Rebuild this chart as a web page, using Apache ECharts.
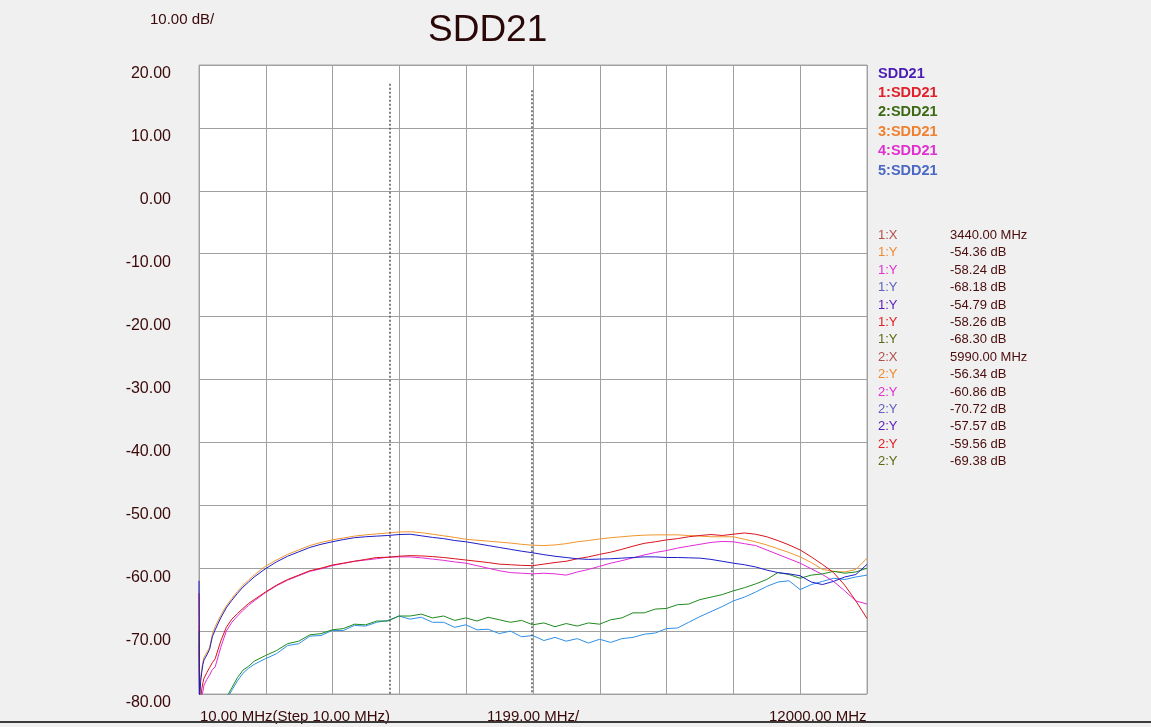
<!DOCTYPE html>
<html>
<head>
<meta charset="utf-8">
<script src="https://cdn.jsdelivr.net/npm/echarts@6/dist/echarts.min.js"></script>
<style>
  html, body { margin: 0; padding: 0; background: #f0f0f0; }
  #chart { width: 1151px; height: 727px; }
</style>
</head>
<body>
<div id="chart"></div>
<script>
// frequency points (MHz)
const freqs = [
  10, 20, 40, 60, 80, 100, 150, 200, 250, 300, 400, 500, 600, 700, 800, 900, 1000,
  1200, 1400, 1600, 1800, 2000,
  2200, 2400, 2600, 2800, 3000, 3200, 3400, 3600, 3800, 4000,
  4200, 4400, 4600, 4800, 5000, 5200, 5400, 5600, 5800, 6000,
  6200, 6400, 6600, 6800, 7000, 7200, 7400, 7600, 7800, 8000,
  8200, 8400, 8600, 8800, 9000, 9200, 9400, 9600, 9800, 10000,
  10200, 10400, 10600, 10800, 11000, 11200, 11400, 11600, 11800, 12000
];

const sdd21 = [
  -62, -81, -78, -76.5, -75.3, -74.6, -73.8, -72.9, -70.9, -69.8, -67.9, -66.3, -65.1, -64.0, -63.0, -62.2, -61.4,
  -60.1, -59.0, -58.1, -57.4, -56.7,
  -56.2, -55.8, -55.45, -55.15, -55.0, -54.9, -54.8, -54.65, -54.6, -54.85,
  -55.1, -55.3, -55.6, -55.8, -56.1, -56.4, -56.7, -57.0, -57.3, -57.55,
  -57.85, -58.1, -58.3, -58.5, -58.6, -58.55, -58.5, -58.4, -58.3, -58.2,
  -58.2, -58.3, -58.3, -58.35, -58.4, -58.6, -58.9, -59.2, -59.45, -59.8,
  -60.3, -60.7, -60.9, -61.2, -62.2, -62.6, -62.1, -61.4, -61.0, -59.4
];
const sdd21_1 = [
  -64, -82, -81, -79.2, -78.2, -77.5, -76.6, -75.8, -75.0, -74.4, -71.6, -69.4, -68.1, -67.2, -66.4, -65.6, -65.0,
  -63.8, -62.7, -61.8, -61.1, -60.4,
  -60.0, -59.5, -59.2, -58.9, -58.6, -58.3, -58.26, -58.1, -58.0, -58.05,
  -58.15, -58.3, -58.5, -58.7, -58.9, -59.1, -59.35, -59.45, -59.55, -59.6,
  -59.35, -59.1, -58.9, -58.5, -58.2, -57.8, -57.45, -57.0, -56.5, -56.05,
  -55.8, -55.5, -55.3, -55.0, -54.8, -54.65, -54.8, -54.6, -54.4, -54.6,
  -55.0, -55.6, -56.3, -57.1, -58.2, -59.4, -60.7, -62.7, -65.2, -68.0
];
const sdd21_2 = [
  -70, -82, -82, -82, -82, -82, -82, -82, -82, -82, -82, -80.6, -79.0, -77.4, -76.2, -75.6, -74.8,
  -73.9, -73.1, -72.0, -71.6, -70.6,
  -70.4, -69.8, -69.6, -68.9, -69.0, -68.4, -68.4, -67.6, -67.6, -67.3,
  -67.9, -67.6, -68.3, -67.9, -68.4, -67.8, -68.2, -68.6, -68.3, -69.0,
  -68.7, -69.3, -68.8, -69.2, -68.7, -68.9, -68.2, -67.9, -67.1, -67.1,
  -66.5, -66.4, -65.8, -65.7, -65.0, -64.6, -64.2, -63.6, -63.1, -62.5,
  -61.8, -60.7, -61.0, -61.6, -61.1, -60.9, -60.5, -60.8, -60.6, -60.0
];
const sdd21_3 = [
  -69, -81, -77.3, -76, -74.9, -74.2, -73.4, -72.6, -70.5, -69.3, -67.5, -66.0, -64.8, -63.7, -62.7, -61.9, -61.1,
  -59.7, -58.7, -57.8, -57.1, -56.4,
  -55.9, -55.5, -55.2, -54.9, -54.7, -54.55, -54.4, -54.25, -54.2, -54.35,
  -54.6, -54.85, -55.1, -55.4, -55.55, -55.7, -55.85, -56.0, -56.2, -56.35,
  -56.4, -56.3, -56.1, -55.8, -55.6, -55.35, -55.15, -55.0, -54.85, -54.75,
  -54.7, -54.7, -54.7, -54.8, -54.9, -55.0, -55.0, -55.0, -55.4, -55.8,
  -56.3, -56.9, -57.5, -58.2, -59.1, -60.2, -60.5, -60.6, -60.2, -58.4
];
const sdd21_4 = [
  -72, -82, -81.5, -80.2, -79.6, -78.6, -77.7, -77.0, -76.1, -75.7, -72.6, -70.0, -68.6, -67.6, -66.7, -65.9, -65.2,
  -63.9, -62.8, -61.9, -61.2, -60.5,
  -60.1, -59.6, -59.25, -58.9, -58.7, -58.5, -58.25, -58.2, -58.2, -58.35,
  -58.55, -58.75, -59.0, -59.2, -59.6, -60.0, -60.4, -60.7, -60.8, -60.9,
  -60.8, -60.9, -61.1, -60.6, -60.2, -59.7, -59.2, -58.8, -58.35, -57.9,
  -57.5, -57.2, -56.8, -56.5, -56.2, -55.9, -55.75, -55.8, -56.1, -56.4,
  -57.1, -57.8, -58.5, -59.2, -60.1, -61.0, -62.1, -63.6, -65.2, -65.7
];
const sdd21_5 = [
  -72, -82, -82, -82, -82, -82, -82, -82, -82, -82, -82, -81.0, -79.4, -77.9, -76.7, -75.9, -75.3,
  -74.4, -73.6, -72.3, -72.0, -70.8,
  -70.7, -69.9, -69.9, -69.1, -69.2, -68.6, -68.3, -67.6, -68.1, -67.8,
  -68.6, -68.6, -69.4, -69.0, -69.8, -69.7, -70.4, -70.0, -70.9, -70.7,
  -71.5, -71.0, -71.6, -71.2, -71.9, -71.3, -71.8, -71.2, -71.0, -70.5,
  -70.3, -69.6, -69.5, -68.6, -67.7, -66.9, -66.1, -65.2, -64.6, -63.8,
  -62.9, -62.2, -62.0, -63.4, -62.6, -62.1, -61.6, -61.8, -61.4, -61.1
];

const seriesNames = ['SDD21', '1:SDD21', '2:SDD21', '3:SDD21', '4:SDD21', '5:SDD21'];
const seriesValues = [sdd21, sdd21_1, sdd21_2, sdd21_3, sdd21_4, sdd21_5];
const lineColors = ['#1e1ec8', '#d8141c', '#1f8a1f', '#f0962e', '#e22ad6', '#2f8fe6'];
const legendColors = ['#4a1cb4', '#e0202a', '#3c6a14', '#f08030', '#e030d0', '#4a68c4'];
const zOrder = [6, 5, 4, 3, 2, 1];

// markers
const markerFreqs = [3440, 5990];
const markerTops = [17.0, 16.0];
const markerRowLabels = ['Y', 'Y', 'Y', 'Y', 'Y', 'Y'];
const markerRowColors = ['#f08a30', '#e030d0', '#6060c0', '#5a1ab8', '#e02020', '#5a6a10'];
const marker1Vals = [-54.36, -58.24, -68.18, -54.79, -58.26, -68.30];
const marker2Vals = [-56.34, -60.86, -70.72, -57.57, -59.56, -69.38];

const yTicks = [-80, -70, -60, -50, -40, -30, -20, -10, 0, 10, 20];
const xStart = 10, xStop = 12000, xStep = 1199;

const chart = echarts.init(document.getElementById('chart'));

const font = '"Liberation Sans", Arial, sans-serif';
const series = seriesNames.map((name, i) => ({
  name: name,
  type: 'line',
  xAxisIndex: 0,
  data: freqs.map((f, j) => [f, seriesValues[i][j]]),
  showSymbol: false,
  symbol: 'none',
  lineStyle: { width: 1, color: lineColors[i] },
  itemStyle: { color: lineColors[i] },
  z: zOrder[i],
  animation: false,
  clip: true
}));

series[0].markLine = {
  silent: true,
  symbol: 'none',
  label: { show: false },
  lineStyle: { type: [2, 2], color: '#555', width: 1.5 },
  data: markerFreqs.map((f, i) => [
    { coord: [f, markerTops[i]] },
    { coord: [f, yTicks[0]] }
  ])
};

// marker table
const graphics = [];
const rowX1 = 878, rowX2 = 950, rowY0 = 236, rowH = 17.4;
let row = 0;
function addRow(label, color, value) {
  graphics.push({ type: 'text', left: rowX1, top: rowY0 + row * rowH - 7,
    style: { text: label, fill: color, font: '13px ' + font } });
  graphics.push({ type: 'text', left: rowX2, top: rowY0 + row * rowH - 7,
    style: { text: value, fill: '#4a0c0c', font: '13px ' + font } });
  row++;
}
[marker1Vals, marker2Vals].forEach((vals, m) => {
  addRow((m + 1) + ':X', '#b0504a', markerFreqs[m].toFixed(2) + ' MHz');
  vals.forEach((v, k) => addRow((m + 1) + ':' + markerRowLabels[k], markerRowColors[k], v.toFixed(2) + ' dB'));
});

graphics.push(
  { type: 'text', left: 150, top: 12, style: { text: '10.00 dB/', fill: '#3a0808', font: '15px ' + font } },
  { type: 'text', left: 200, top: 709, style: { text: xStart.toFixed(2) + ' MHz(Step 10.00 MHz)', fill: '#3a0808', font: '15px ' + font } },
  { type: 'text', left: 487, top: 709, style: { text: xStep.toFixed(2) + ' MHz/', fill: '#3a0808', font: '15px ' + font } },
  { type: 'text', left: 769, top: 709, style: { text: xStop.toFixed(2) + ' MHz', fill: '#3a0808', font: '15px ' + font } },
  { type: 'rect', shape: { x: 0, y: 721, width: 1151, height: 2 }, style: { fill: '#3a3a3a' } }
);

chart.setOption({
  backgroundColor: '#f0f0f0',
  animation: false,
  title: {
    text: 'SDD21',
    left: 423,
    top: 7,
    textStyle: { fontFamily: font, fontSize: 37, fontWeight: 'normal', color: '#2a0808' }
  },
  legend: {
    orient: 'vertical',
    left: 868,
    top: 61,
    icon: 'none',
    itemWidth: 0,
    itemHeight: 14,
    itemGap: 4.4,
    selectedMode: false,
    textStyle: { fontFamily: font, fontSize: 14.5, fontWeight: 'bold' },
    data: seriesNames.map((n, i) => ({ name: n, textStyle: { color: legendColors[i] } }))
  },
  grid: {
    left: 199, top: 65, width: 668, height: 629,
    show: true, backgroundColor: '#ffffff', borderColor: '#a8a8a8', borderWidth: 1
  },
  xAxis: [
    {
      type: 'value', min: xStart, max: xStop,
      axisLine: { show: false }, axisTick: { show: false },
      axisLabel: { show: false }, splitLine: { show: false }
    },
    {
      // division grid: 10 divisions of 1199 MHz
      type: 'value', min: 0, max: 10, interval: 1,
      axisLine: { show: false }, axisTick: { show: false },
      axisLabel: { show: false },
      splitLine: { show: true, lineStyle: { color: '#a0a0a0', width: 1 } }
    }
  ],
  yAxis: {
    type: 'value', min: yTicks[0], max: yTicks[yTicks.length - 1], interval: 10,
    axisLine: { show: false }, axisTick: { show: false },
    axisLabel: {
      margin: 28, fontFamily: font, fontSize: 16, color: '#3a0808',
      verticalAlign: 'top', padding: [1, 0, 0, 0],
      formatter: v => v.toFixed(2)
    },
    splitLine: { show: true, lineStyle: { color: '#a0a0a0', width: 1 } }
  },
  series: series,
  graphic: graphics
});
</script>
</body>
</html>
